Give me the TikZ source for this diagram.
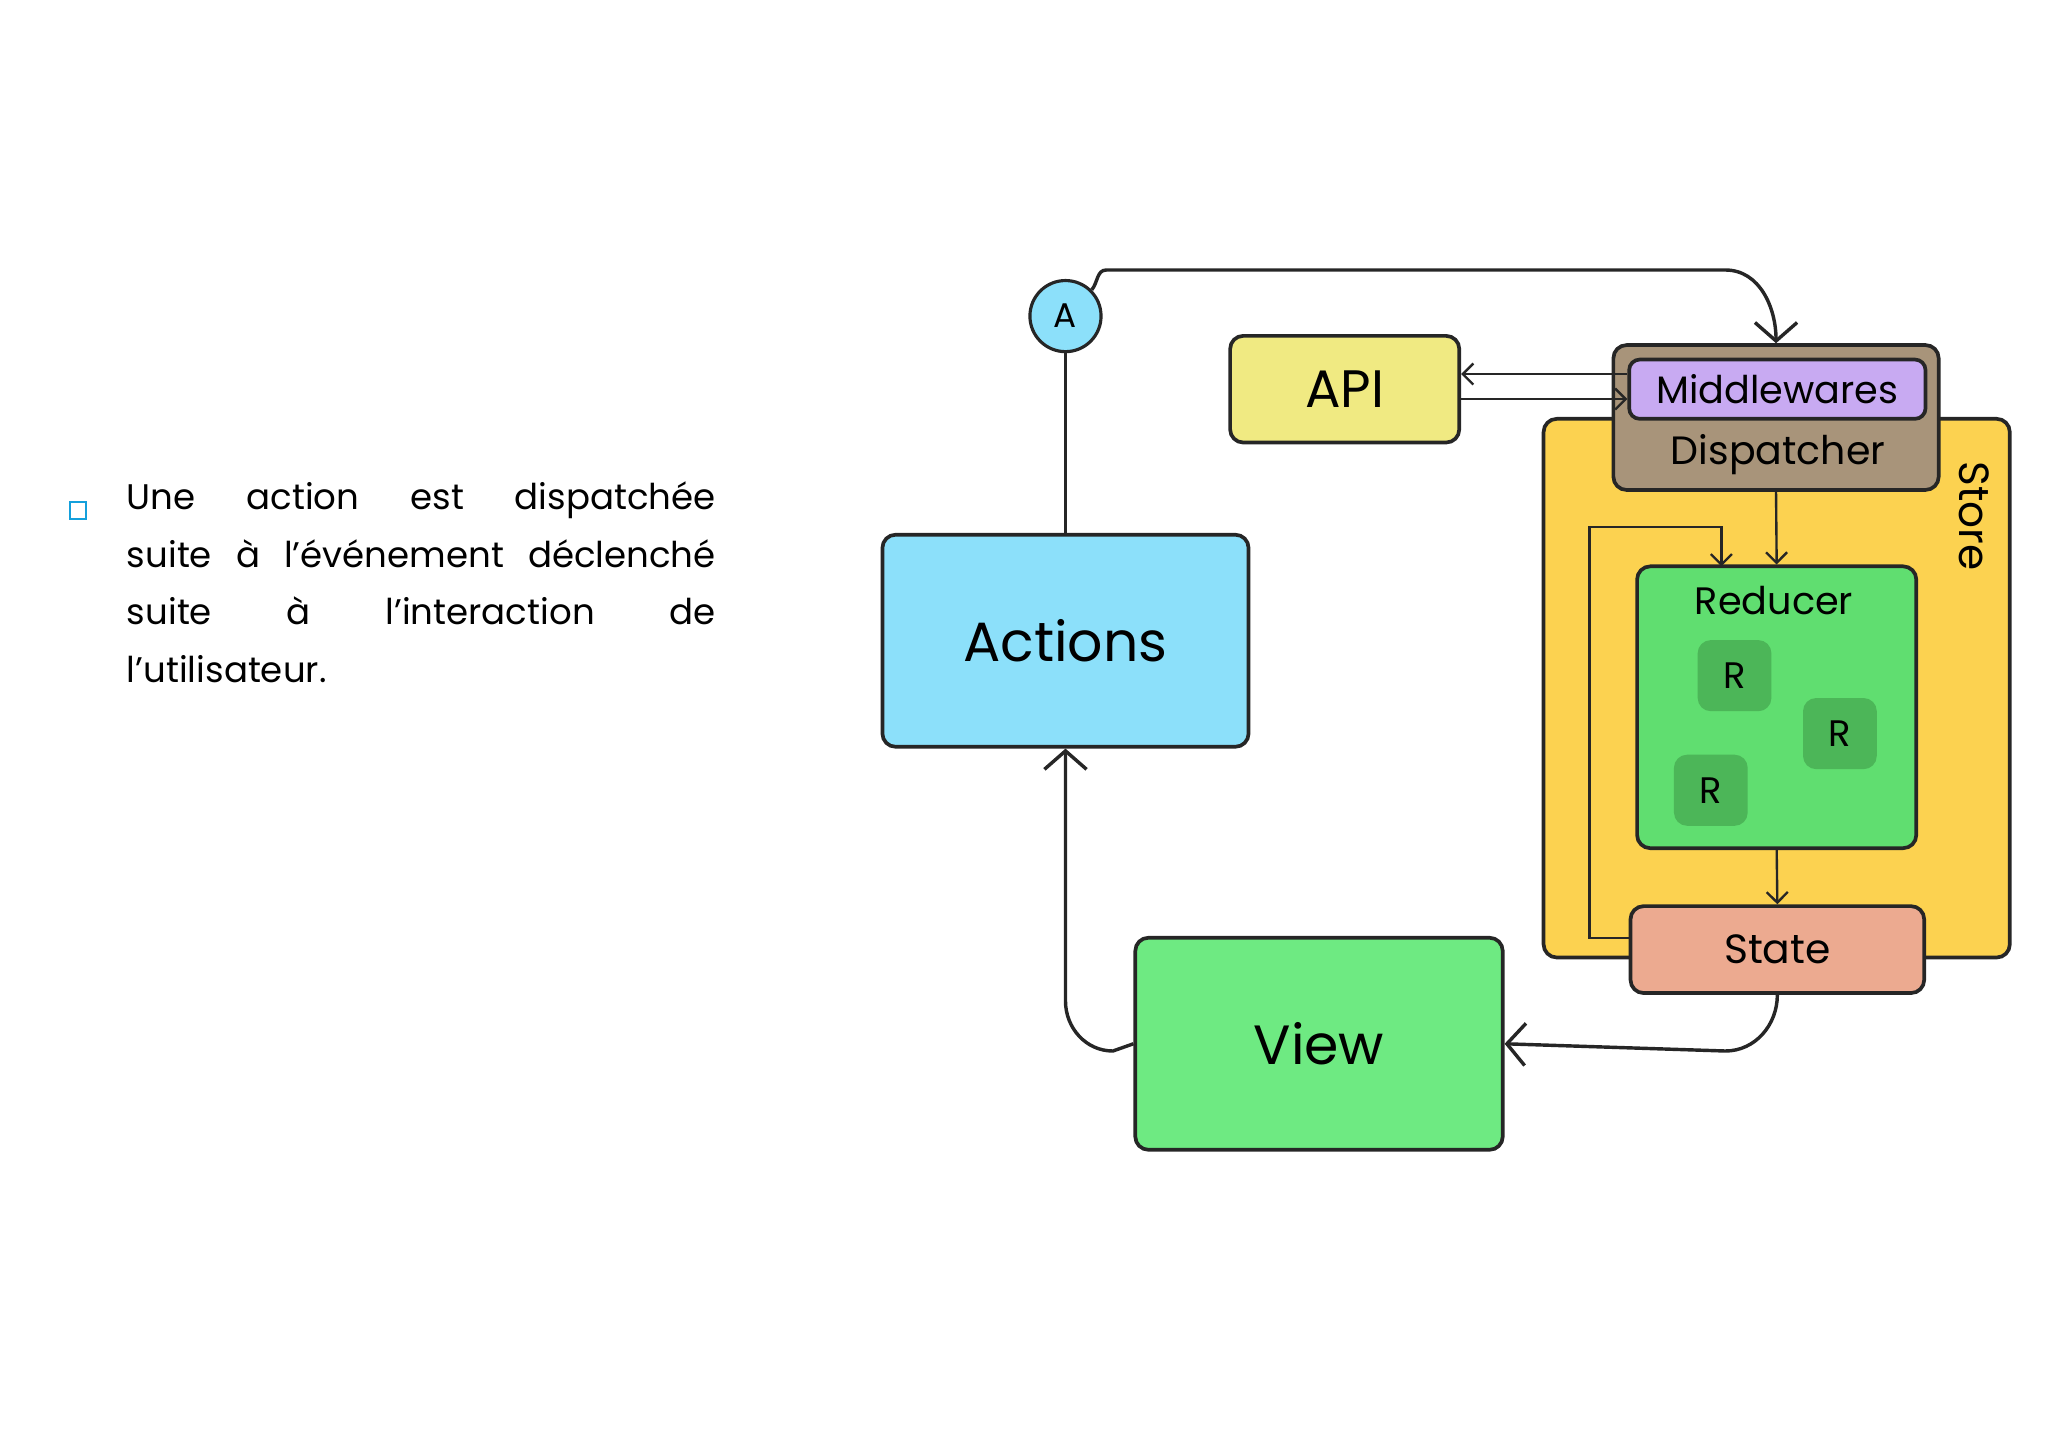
\documentclass[tikz,border=0pt]{standalone}
\usepackage{fontspec}
\setmainfont{Poppins}
\usetikzlibrary{arrows.meta}

\definecolor{actblue}{RGB}{140,224,250}
\definecolor{apiyel}{RGB}{240,234,130}
\definecolor{dispbrown}{RGB}{168,148,122}
\definecolor{midpurple}{RGB}{200,170,242}
\definecolor{storeyel}{RGB}{252,210,80}
\definecolor{redgreen}{RGB}{96,222,112}
\definecolor{rgreen}{RGB}{76,182,88}
\definecolor{statesal}{RGB}{236,170,144}
\definecolor{viewgreen}{RGB}{110,234,130}
\definecolor{bulletblue}{RGB}{20,160,220}

\tikzset{
  box/.style={draw=black!85,line width=1.4pt,rounded corners=5pt,inner sep=0pt},
  flow/.style={line width=1.3pt,draw=black!85},
  bigtip/.style={flow,-{Straight Barb[length=7pt,width=16pt,line width=1.3pt]}},
  smalltip/.style={line width=0.9pt,draw=black!85,-{Straight Barb[length=4pt,width=8pt]}},
}

\begin{document}
\begin{tikzpicture}[x=0.5pt,y=-0.5pt]
  \useasboundingbox (0,0) rectangle (1555,1099);

  % bullet text
  \draw[bulletblue,line width=0.8pt] (53,381) rectangle (65,394);
  \node[anchor=north west,inner sep=0pt,text width=223.5pt,align=justify,
        font=\fontsize{13.5}{22}\selectfont] (txt) at (96,365)
    {Une action est dispatchée\linebreak suite à l’événement déclenché\linebreak
     suite à l’interaction de\linebreak l’utilisateur.};

  % store background
  \node[box,fill=storeyel,minimum width=177pt,minimum height=204.5pt] (store) at (1349,522.5) {};
  \node[rotate=-90,font=\fontsize{16}{16}\selectfont] (storelbl) at (1499,392) {Store};

  % boxes
  \node[box,fill=actblue,minimum width=139pt,minimum height=80.5pt,font=\fontsize{21}{21}\selectfont]
    (actions) at (809,486.5) {Actions};
  \node[box,fill=viewgreen,minimum width=139.5pt,minimum height=80.5pt,font=\fontsize{21}{21}\selectfont]
    (view) at (1001.5,792.5) {View};
  \node[box,fill=apiyel,minimum width=87pt,minimum height=40.5pt,font=\fontsize{20}{20}\selectfont]
    (api) at (1021,295.5) {API};
  \node[box,fill=dispbrown,minimum width=123.5pt,minimum height=55pt] (disp) at (1348.5,317) {};
  \node[font=\fontsize{15}{15}\selectfont] (displbl) at (1350,345) {Dispatcher};
  \node[box,fill=midpurple,minimum width=112.5pt,minimum height=22.5pt,rounded corners=4pt,
        font=\fontsize{14.5}{14.5}\selectfont] (mid) at (1349.5,295.5) {Middlewares};
  \node[box,fill=redgreen,minimum width=106pt,minimum height=107pt] (red) at (1349,537) {};
  \node[font=\fontsize{14.5}{14.5}\selectfont] (redlbl) at (1347,456) {Reducer};
  \foreach \nm/\px/\py in {r1/1317/513, r2/1397/557, r3/1299/600}
    \node[fill=rgreen,rounded corners=5pt,minimum width=28pt,minimum height=27pt,
          font=\fontsize{14}{14}\selectfont] (\nm) at (\px,\py) {R};
  \node[box,fill=statesal,minimum width=111.5pt,minimum height=33pt,font=\fontsize{15.5}{15.5}\selectfont]
    (state) at (1349.5,721) {State};
  \node[circle,draw=black!85,line width=1.2pt,fill=actblue,minimum size=27pt,inner sep=0pt,
        font=\fontsize{13}{13}\selectfont] (a) at (809,240) {A};

  % connectors
  \draw[flow] (actions.north) -- (a.south);
  \draw[bigtip] (a.north east) to[out=50,in=180] (840,205) -- (1310,205)
    to[out=0,in=90] (disp.north);
  \draw[smalltip] (mid.west |- 0,284) -- (api.east |- 0,284);
  \draw[smalltip] (api.east |- 0,303) -- (mid.west |- 0,303);
  \draw[smalltip] (disp.south) -- (red.north);
  \draw[smalltip] (red.south) -- (state.north);
  \draw[smalltip] (state.west |- 0,712) -- (1207,712) -- (1207,400) -- (1307,400) -- (1307,430);
  \draw[bigtip] (state.south) to[out=-90,in=0] (1310,798) -- (view.east);
  \draw[bigtip] (view.west) -- (845,798) to[out=180,in=-90] (809,760) -- (actions.south);
\end{tikzpicture}
\end{document}
